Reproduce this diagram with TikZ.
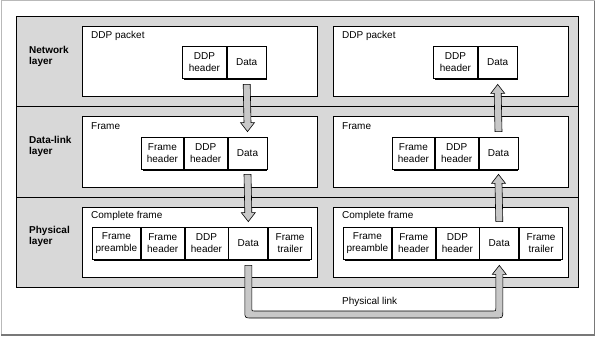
\documentclass[tikz,border=0pt]{standalone}
\usepackage{fontspec}
\setmainfont{Liberation Sans}
\usetikzlibrary{calc}
\definecolor{panel}{RGB}{216,216,216}
\definecolor{arrowgray}{RGB}{200,200,200}
\definecolor{framelight}{RGB}{185,185,185}
\definecolor{framedark}{RGB}{120,120,120}
\tikzset{
  cell/.style={draw, fill=white, line width=0.8pt, minimum height=32pt, inner sep=0pt,
    align=center, font=\fontsize{10}{11.5}\selectfont, anchor=west},
  boxw/.style={draw, fill=white, line width=0.8pt},
  titletext/.style={anchor=west, inner sep=0pt, font=\fontsize{10}{11.5}\selectfont},
  layerlabel/.style={anchor=west, align=left, inner sep=0pt, font=\bfseries\fontsize{10}{11}\selectfont},
  fatarrow/.style={draw, fill=arrowgray, line width=0.6pt, line join=miter},
  shadowbox/.style={fill=black}
}
\newcommand\fatarr[3]{\draw[fatarrow] ($(#1)+(-3.5,0)$) -- ($(#2)+(-3.5,#3)$) -- ($(#2)+(-7,#3)$) -- (#2) -- ($(#2)+(7,#3)$) -- ($(#2)+(3.5,#3)$) -- ($(#1)+(3.5,0)$) -- cycle;}
\begin{document}
\begin{tikzpicture}[x=1pt,y=-1pt]
\useasboundingbox (0,0) rectangle (596,337);
\fill[white] (0,0) rectangle (596,337);
% outer frame
\draw[framelight, line width=1pt] (1,335) -- (1,1) -- (594.5,1);
\draw[framedark, line width=1.5pt] (594.5,1) -- (594.5,335) -- (1,335);
% panel with layer bands
\draw[fill=panel, line width=0.8pt] (16,16) rectangle (578,287);
\draw[line width=0.8pt] (16,106) -- (578,106) (16,197) -- (578,197);
% layer labels
\node[layerlabel] (lnet) at (29,56) {Network\\layer};
\node[layerlabel] (ldl) at (29,146) {Data-link\\layer};
\node[layerlabel] (lph) at (29,236) {Physical\\layer};
% two stacks
\foreach \c/\o in {L/0,R/251} {
  % white boxes
  \draw[boxw] (82+\o,26) rectangle (317+\o,96);
  \draw[boxw] (82+\o,116) rectangle (317+\o,187);
  \draw[boxw] (82+\o,207) rectangle (317+\o,277);
  \node[titletext] (tn\c) at (91+\o,36) {DDP packet};
  \node[titletext] (td\c) at (91+\o,126) {Frame};
  \node[titletext] (tp\c) at (91+\o,216) {Complete frame};
  % network packet
  \fill[shadowbox] (184+\o,48) rectangle (267+\o,80);
  \node[cell, minimum width=44pt] (nh\c) at (182+\o,62) {DDP\\header};
  \node[cell, minimum width=39pt] (nd\c) at (nh\c.east) {Data};
  % data-link frame
  \fill[shadowbox] (143+\o,139) rectangle (267+\o,171);
  \node[cell, minimum width=42pt] (dfh\c) at (141+\o,153) {Frame\\header};
  \node[cell, minimum width=43pt] (ddh\c) at (dfh\c.east) {DDP\\header};
  \node[cell, minimum width=39pt] (dd\c) at (ddh\c.east) {Data};
  % physical frame
  \fill[shadowbox] (94+\o,229) rectangle (310+\o,261);
  \node[cell, minimum width=48pt] (ppr\c) at (92+\o,243) {Frame\\preamble};
  \node[cell, minimum width=43pt] (pfh\c) at (ppr\c.east) {Frame\\header};
  \node[cell, minimum width=43pt] (pdh\c) at (pfh\c.east) {DDP\\header};
  \node[cell, minimum width=39pt] (pd\c) at (pdh\c.east) {Data};
  \node[cell, minimum width=43pt] (ptr\c) at (pd\c.east) {Frame\\trailer};
}
% arrow end points
\coordinate (a1s) at ($(ndL.south)+(0,6)$);
\coordinate (a1t) at ($(ddL.north)+(0,-5)$);
\coordinate (a2s) at ($(ddL.south)+(0,5)$);
\coordinate (a2t) at ($(pdL.north)+(0,-5)$);
\coordinate (a3s) at ($(pdR.north)+(0,-5)$);
\coordinate (a3t) at ($(ddR.south)+(0,5)$);
\coordinate (a4s) at ($(ddR.north)+(0,-5)$);
\coordinate (a4t) at ($(ndR.south)+(0,6)$);
\fatarr{a1s}{a1t}{-9}
\fatarr{a2s}{a2t}{-9}
\fatarr{a3s}{a3t}{9}
\fatarr{a4s}{a4t}{9}
% physical link
\coordinate (pls) at ($(pdL.south)+(0,6)$);
\coordinate (plt) at ($(pdR.south)+(0,6)$);
\coordinate (plb) at (370,314.5);
\draw[fatarrow] ($(pls)+(-3.5,0)$)
  -- ($(pls|-plb)+(-3.5,-3.5)$) .. controls ($(pls|-plb)+(-3.5,3.5)$) .. ($(pls|-plb)+(3.5,3.5)$)
  -- ($(plt|-plb)+(-3.5,3.5)$) .. controls ($(plt|-plb)+(3.5,3.5)$) .. ($(plt|-plb)+(3.5,-3.5)$)
  -- ($(plt)+(3.5,9)$) -- ($(plt)+(7,9)$) -- (plt) -- ($(plt)+(-7,9)$) -- ($(plt)+(-3.5,9)$)
  -- ($(plt|-plb)+(-3.5,-6)$) .. controls ($(plt|-plb)+(-3.5,-3.5)$) .. ($(plt|-plb)+(-6,-3.5)$)
  -- ($(pls|-plb)+(6,-3.5)$) .. controls ($(pls|-plb)+(3.5,-3.5)$) .. ($(pls|-plb)+(3.5,-6)$)
  -- ($(pls)+(3.5,0)$) -- cycle;
\node[titletext] (plink) at (342,302) {Physical link};
\end{tikzpicture}
\end{document}
